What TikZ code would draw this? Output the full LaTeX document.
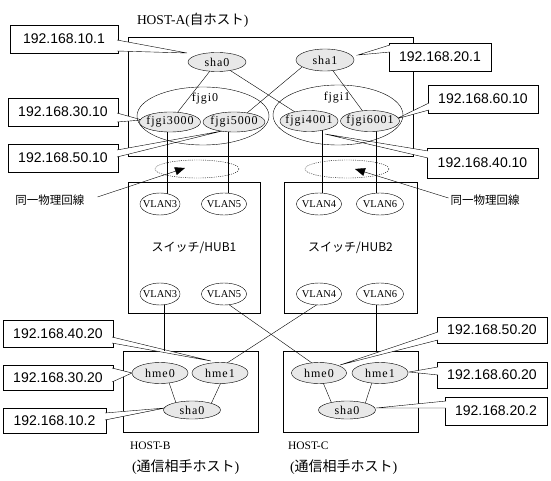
\documentclass[tikz,border=0pt]{standalone}
\usepackage{fontspec}
\setmainfont{Liberation Serif}
\newfontfamily\jp{Noto Sans CJK JP}
\newfontfamily\ipf{Liberation Sans}
\newfontfamily\nf[LetterSpace=8]{Liberation Serif}
\usetikzlibrary{shapes.geometric,arrows.meta}
\pgfdeclarelayer{paper}
\pgfdeclarelayer{boxes}
\pgfdeclarelayer{wedges}
\pgfdeclarelayer{links}
\pgfsetlayers{paper,boxes,wedges,links,main}
\newcommand\zb[1]{\makebox[0pt]{#1}}
\newcommand\wedgeto[3]{\fill[white] #1 -- #2 -- #3 -- cycle; \draw #1 -- #2 -- #3;}
\begin{document}
\begin{tikzpicture}[x=1pt,y=-1pt,line width=0.8pt,line join=round,
  nic/.style={ellipse,draw,fill=gray!18,inner sep=0pt,outer sep=0pt,font=\nf\fontsize{12pt}{12pt}\selectfont},
  vlan/.style={ellipse,draw,fill=white,inner sep=0pt,outer sep=0pt,minimum height=22pt,font=\fontsize{10.5pt}{11pt}\selectfont},
  grp/.style={ellipse,draw,inner sep=0pt,outer sep=0pt},
  frame/.style={draw,rectangle,inner sep=0pt,outer sep=0pt},
  ipbox/.style={draw,fill=white,rectangle,inner sep=0pt,outer sep=0pt,font=\ipf\fontsize{14pt}{14pt}\selectfont},
  bundle/.style={ellipse,draw,dash pattern=on 1pt off 1.2pt,inner sep=0pt,outer sep=0pt,minimum width=84pt,minimum height=18pt},
  lbl/.style={inner sep=0pt,outer sep=0pt},
  grpt/.style={lbl,font=\nf\fontsize{12pt}{12pt}\selectfont},
  note/.style={lbl,font=\jp\fontsize{11.5pt}{12pt}\selectfont},
  arr/.style={-{Triangle[length=10pt,width=8pt]}}
]
\useasboundingbox (0,0) rectangle (551,481);
\begin{pgfonlayer}{paper}
  \fill[white] (0,0) rectangle (551,481);
\end{pgfonlayer}

% ---------- HOST-A ----------
\node[grp,minimum width=132pt,minimum height=58pt] (fj0) at (203,116) {};
\node[grp,minimum width=130pt,minimum height=60pt] (fj1) at (338,115) {};
\node[grpt] (fj0t) at (205,99) {fjgi0};
\node[grpt] (fj1t) at (337,98) {fjgi1};
\node[nic,minimum width=58pt,minimum height=19pt] (sha0A) at (217,62) {\zb{sha0}};
\node[nic,minimum width=58pt,minimum height=22pt] (sha1A) at (325,60) {\zb{sha1}};
\node[nic,minimum width=61pt,minimum height=20pt] (f3000) at (170,122) {\zb{fjgi3000}};
\node[nic,minimum width=62pt,minimum height=20pt] (f5000) at (234,122) {\zb{fjgi5000}};
\node[nic,minimum width=58pt,minimum height=21pt] (f4001) at (309,121) {\zb{fjgi4001}};
\node[nic,minimum width=59pt,minimum height=21pt] (f6001) at (370,121) {\zb{fjgi6001}};
\node[lbl,anchor=west,font=\fontsize{13.5pt}{14pt}\selectfont] (titleA) at (137,20) {HOST-A({\jp 自ホスト})};

% ---------- switches ----------
\node[vlan,minimum width=40pt] (v3a) at (160,204) {\zb{VLAN3}};
\node[vlan,minimum width=45pt] (v5a) at (224,204) {\zb{VLAN5}};
\node[vlan,minimum width=45pt] (v4a) at (319,204) {\zb{VLAN4}};
\node[vlan,minimum width=47pt] (v6a) at (380,204) {\zb{VLAN6}};
\node[vlan,minimum width=40pt] (v3b) at (160,294) {\zb{VLAN3}};
\node[vlan,minimum width=45pt] (v5b) at (224,294) {\zb{VLAN5}};
\node[vlan,minimum width=45pt] (v4b) at (319,294) {\zb{VLAN4}};
\node[vlan,minimum width=47pt] (v6b) at (380,294) {\zb{VLAN6}};

% ---------- HOST-B / HOST-C ----------
\node[nic,minimum width=56pt,minimum height=21pt] (hmeB0) at (160,373) {\zb{hme0}};
\node[nic,minimum width=56pt,minimum height=21pt] (hmeB1) at (220,373) {\zb{hme1}};
\node[nic,minimum width=57pt,minimum height=18pt] (shaB) at (192,410) {\zb{sha0}};
\node[nic,minimum width=55pt,minimum height=21pt] (hmeC0) at (319,373) {\zb{hme0}};
\node[nic,minimum width=56pt,minimum height=21pt] (hmeC1) at (380,373) {\zb{hme1}};
\node[nic,minimum width=57pt,minimum height=18pt] (shaC) at (347,410) {\zb{sha0}};
\node[lbl,anchor=west,font=\fontsize{11.5pt}{12pt}\selectfont] (titleB1) at (130,446) {HOST-B};
\node[lbl,anchor=west,font=\fontsize{14pt}{14pt}\selectfont] (titleB2) at (132,467) {({\jp 通信相手ホスト})};
\node[lbl,anchor=west,font=\fontsize{11.5pt}{12pt}\selectfont] (titleC1) at (288,446) {HOST-C};
\node[lbl,anchor=west,font=\fontsize{14pt}{14pt}\selectfont] (titleC2) at (290,467) {({\jp 通信相手ホスト})};

% ---------- notes ----------
\node[note] (t1) at (50,200) {同一物理回線};
\node[note] (t2) at (485,200) {同一物理回線};

% ---------- frames ----------
\begin{pgfonlayer}{boxes}
  \node[frame,minimum width=285pt,minimum height=119pt] (hostA) at (270.5,96.5) {};
  \node[frame,minimum width=132pt,minimum height=131pt,font=\jp\fontsize{12pt}{12pt}\selectfont] (hub1) at (194,247.5) {スイッチ/HUB1};
  \node[frame,minimum width=133pt,minimum height=131pt,font=\jp\fontsize{12pt}{12pt}\selectfont] (hub2) at (350.5,247.5) {スイッチ/HUB2};
  \node[frame,minimum width=135pt,minimum height=81pt] (hostB) at (190.5,391.5) {};
  \node[frame,minimum width=135pt,minimum height=81pt] (hostC) at (350.5,391.5) {};
  \node[bundle] (de1) at (197,169) {};
  \node[bundle] (de2) at (347,169) {};
\end{pgfonlayer}

% ---------- callouts ----------
\begin{pgfonlayer}{wedges}
  \node[ipbox,minimum width=108pt,minimum height=28pt] (c101) at (64,39) {192.168.10.1};
  \node[ipbox,minimum width=110pt,minimum height=28pt] (c3010) at (63,112) {192.168.30.10};
  \node[ipbox,minimum width=110pt,minimum height=28pt] (c5010) at (63,158) {192.168.50.10};
  \node[ipbox,minimum width=102pt,minimum height=28pt] (c201) at (440,57) {192.168.20.1};
  \node[ipbox,minimum width=110pt,minimum height=28pt] (c6010) at (483,99) {192.168.60.10};
  \node[ipbox,minimum width=111pt,minimum height=30pt] (c4010) at (482.5,163) {192.168.40.10};
  \node[ipbox,minimum width=110pt,minimum height=27pt] (c4020) at (58,333.5) {192.168.40.20};
  \node[ipbox,minimum width=110pt,minimum height=25pt] (c3020) at (58,377.5) {192.168.30.20};
  \node[ipbox,minimum width=103pt,minimum height=25pt] (c102) at (54.5,420.5) {192.168.10.2};
  \node[ipbox,minimum width=110pt,minimum height=26pt] (c5020) at (492,330) {192.168.50.20};
  \node[ipbox,minimum width=110pt,minimum height=26pt] (c6020) at (492,375) {192.168.60.20};
  \node[ipbox,minimum width=102pt,minimum height=28pt] (c202) at (496,411) {192.168.20.2};

  \wedgeto{([shift={(-1,15)}]c101.north east)}{([shift={(-30,-9)}]sha0A.center)}{([shift={(-1,26)}]c101.north east)}
  \wedgeto{([shift={(-1,15)}]c3010.north east)}{([shift={(-28,-2)}]f3000.center)}{([shift={(-1,24)}]c3010.north east)}
  \wedgeto{([shift={(-1,6)}]c5010.north east)}{([shift={(-12,9)}]f5000.center)}{([shift={(-1,13)}]c5010.north east)}
  \wedgeto{([shift={(1,2)}]c201.north west)}{([shift={(33,-5)}]sha1A.center)}{([shift={(1,9)}]c201.north west)}
  \wedgeto{([shift={(1,18)}]c6010.north west)}{([shift={(26,-2)}]f6001.center)}{([shift={(1,25)}]c6010.north west)}
  \wedgeto{([shift={(1,3)}]c4010.north west)}{([shift={(16,13)}]f4001.center)}{([shift={(1,10)}]c4010.north west)}
  \wedgeto{([shift={(-1,17)}]c4020.north east)}{([shift={(-9,-12)}]hmeB1.center)}{([shift={(-1,23)}]c4020.north east)}
  \wedgeto{([shift={(-1,3)}]c3020.north east)}{([shift={(-28,0)}]hmeB0.center)}{([shift={(-1,17)}]c3020.north east)}
  \wedgeto{([shift={(-1,5)}]c102.north east)}{([shift={(-27,-2)}]shaB.center)}{([shift={(-1,12)}]c102.north east)}
  \wedgeto{([shift={(1,15)}]c5020.north west)}{([shift={(21,-8)}]hmeC0.center)}{([shift={(1,23)}]c5020.north west)}
  \wedgeto{([shift={(1,5)}]c6020.north west)}{([shift={(29,-1)}]hmeC1.center)}{([shift={(1,13)}]c6020.north west)}
  \wedgeto{([shift={(1,4)}]c202.north west)}{([shift={(29,-2)}]shaC.center)}{([shift={(1,11)}]c202.north west)}
\end{pgfonlayer}

% ---------- connectors ----------
\begin{pgfonlayer}{links}
  \draw (sha0A) -- (f3000);
  \draw (sha0A) -- (f4001);
  \draw ([shift={(-23,7)}]sha1A.center) -- ([shift={(13,-9)}]f5000.center);
  \draw (sha1A) -- (f6001);
  \draw ([shift={(-3,0)}]f3000.center) -- ([shift={(7,0)}]v3a.center);
  \draw ([shift={(-6,0)}]f5000.center) -- ([shift={(4,0)}]v5a.center);
  \draw ([shift={(13,0)}]f4001.center) -- ([shift={(3,0)}]v4a.center);
  \draw ([shift={(6,0)}]f6001.center) -- ([shift={(-4,0)}]v6a.center);
  \coordinate (hBin) at ([shift={(-26.5,0)}]hostB.north);
  \coordinate (hCin) at ([shift={(25.5,0)}]hostC.north);
  \draw ([shift={(4,0)}]v3b.center) -- (hBin);
  \draw ([shift={(-4,0)}]v6b.center) -- (hCin);
  \draw ([shift={(4,10)}]v5b.center) -- ([shift={(-7,-10)}]hmeC0.center);
  \draw ([shift={(-1,10)}]v4b.center) -- ([shift={(7,-10)}]hmeB1.center);
  \draw ([shift={(9,9.5)}]hmeB0.center) -- ([shift={(-16,-7)}]shaB.center);
  \draw ([shift={(1,9.5)}]hmeB1.center) -- ([shift={(19,-6)}]shaB.center);
  \draw ([shift={(4,9.5)}]hmeC0.center) -- ([shift={(-15,-6)}]shaC.center);
  \draw ([shift={(-8,9.5)}]hmeC1.center) -- ([shift={(18,-6)}]shaC.center);
  \draw[arr] ([shift={(13,-3)}]t1.east) -- ([shift={(-12,-1)}]de1.center);
  \draw[arr] ([shift={(-2,-2)}]t2.west) -- ([shift={(8,0)}]de2.center);
\end{pgfonlayer}
\end{tikzpicture}
\end{document}
